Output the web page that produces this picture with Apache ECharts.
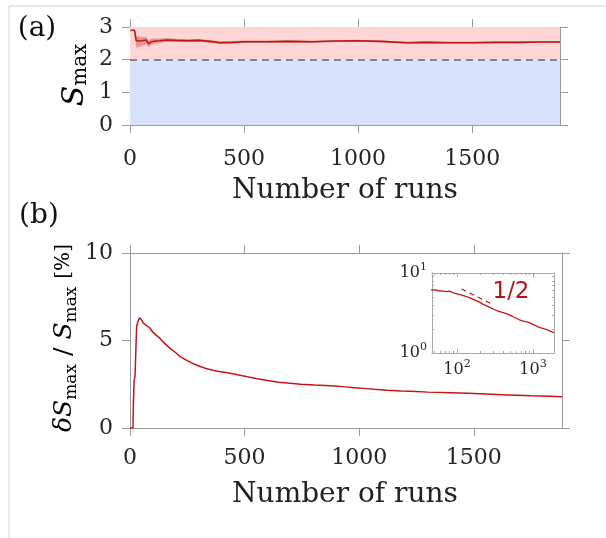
<!DOCTYPE html>
<html><head><meta charset="utf-8">
<script src="https://cdn.jsdelivr.net/npm/echarts@6/dist/echarts.min.js"></script>
<style>html,body{margin:0;padding:0;background:#fff}#c{width:606px;height:538px}</style>
</head><body><div id="c"></div>
<script>
// ---------- data ----------
const xTicks = [0, 500, 1000, 1500];
const yTicksA = [0, 1, 2, 3];
const yTicksB = [0, 5, 10];
const thresholdS = 2;

const runsA = [2, 20, 24, 27, 32, 38, 45, 52, 60, 70, 82, 95, 110, 130, 160, 200, 250, 300, 350, 395,
  450, 500, 600, 700, 800, 900, 1000, 1100, 1214, 1300, 1400, 1500, 1600, 1700, 1800, 1885];
const sMean = [2.9, 2.9, 2.72, 2.58, 2.52, 2.57, 2.53, 2.58, 2.55, 2.6, 2.49, 2.55, 2.57, 2.58, 2.6, 2.59, 2.58, 2.59, 2.56, 2.52,
  2.53, 2.55, 2.55, 2.56, 2.55, 2.57, 2.58, 2.56, 2.52, 2.53, 2.52, 2.52, 2.53, 2.53, 2.54, 2.54];
const sErr = [0, 0, 0.06, 0.18, 0.17, 0.16, 0.15, 0.14, 0.13, 0.11, 0.1, 0.09, 0.08, 0.07, 0.06, 0.05, 0.05, 0.045, 0.04, 0.04,
  0.04, 0.035, 0.035, 0.035, 0.03, 0.03, 0.03, 0.03, 0.03, 0.03, 0.028, 0.028, 0.028, 0.025, 0.025, 0.025];

const runsB = [0, 13, 15, 18, 22, 25, 29, 35, 41, 46, 51, 58, 66, 72, 80, 88, 95, 110, 131, 150, 175, 200, 219, 250, 278,
  310, 336, 365, 395, 425, 453, 480, 512, 555, 600, 650, 687, 745, 804, 850, 892, 940, 980, 1030, 1067, 1120, 1184,
  1250, 1300, 1400, 1476, 1550, 1650, 1750, 1830, 1885];
const relErr = [0, 0, 1.5, 2.7, 3.0, 4.2, 5.8, 6.1, 6.3, 6.2, 6.17, 6.0, 5.94, 5.85, 5.92, 5.7, 5.55, 5.35, 5.12, 4.85, 4.55, 4.3, 4.08, 3.85, 3.66,
  3.5, 3.38, 3.28, 3.22, 3.16, 3.09, 3.02, 2.93, 2.82, 2.72, 2.62, 2.57, 2.5, 2.46, 2.43, 2.4, 2.35, 2.3, 2.25, 2.21, 2.16, 2.11,
  2.08, 2.05, 2.01, 1.98, 1.94, 1.89, 1.84, 1.81, 1.79];

const insetXMajor = [100, 1000];
const insetXMinor = [50, 60, 70, 80, 90, 200, 300, 400, 500, 600, 700, 800, 900];
const insetYMajor = [1, 10];
const insetYMinor = [2, 3, 4, 5, 6, 7, 8, 9];
const slopeRuns = [115, 286];
const slopeVals = [6.3, 4.1];

// ---------- helpers ----------
const AX = '#9a9a9a';
const AXI = '#a8a8a8';
const TXT = '#262626';
const SERIF = 'DejaVu Serif';
const plain = v => String(Math.round(v));

function mainX(grid, pos, show, margin) {
  return {
    type: 'value', gridIndex: grid, position: pos, min: 0, max: 1885, interval: 500,
    axisLine: { show: true, onZero: false, lineStyle: { color: AX, width: 1 } },
    axisTick: { show: true, inside: false, length: 8, customValues: xTicks, lineStyle: { color: AX } },
    axisLabel: { show: show, margin: margin, showMaxLabel: false, formatter: plain, fontFamily: SERIF, fontSize: 22, color: TXT },
    splitLine: { show: false }
  };
}
function mainY(grid, pos, show, max, interval, ticks) {
  return {
    type: 'value', gridIndex: grid, position: pos, min: 0, max: max, interval: interval,
    axisLine: { show: true, onZero: false, lineStyle: { color: AX, width: 1 } },
    axisTick: { show: true, inside: false, length: 8, customValues: ticks, lineStyle: { color: AX } },
    axisLabel: { show: show, margin: 17, formatter: plain, fontFamily: SERIF, fontSize: 22, color: TXT },
    splitLine: { show: false }
  };
}
function isPow10(v) { const l = Math.log10(v); return Math.abs(l - Math.round(l)) < 1e-6; }
function powLabel(v) { return isPow10(v) ? '{m|10}{s|' + Math.round(Math.log10(v)) + '}' : ''; }
const powRich = {
  m: { fontFamily: SERIF, fontSize: 16, lineHeight: 22, color: TXT, verticalAlign: 'middle' },
  s: { fontFamily: SERIF, fontSize: 11, lineHeight: 10, color: TXT, verticalAlign: 'top' }
};
function logX(pos, show, ticks, len) {
  return {
    type: 'log', logBase: 10, gridIndex: 2, position: pos, min: 47, max: 1885,
    axisLine: { show: true, onZero: false, lineStyle: { color: AXI, width: 1 } },
    axisTick: { show: true, inside: true, length: len, customValues: ticks, lineStyle: { color: AXI } },
    axisLabel: { show: show, margin: 6, showMinLabel: false, showMaxLabel: false, formatter: powLabel, rich: powRich },
    splitLine: { show: false }, minorTick: { show: false }
  };
}
function logY(pos, show, ticks, len) {
  return {
    type: 'log', logBase: 10, gridIndex: 2, position: pos, min: 1, max: 10,
    axisLine: { show: true, onZero: false, lineStyle: { color: AXI, width: 1 } },
    axisTick: { show: true, inside: true, length: len, customValues: ticks, lineStyle: { color: AXI } },
    axisLabel: { show: show, margin: 5, formatter: powLabel, rich: powRich },
    splitLine: { show: false }, minorTick: { show: false }
  };
}

const chart = echarts.init(document.getElementById('c'), null, { renderer: 'canvas' });

const subRich = (main, sub, br) => ({
  i: { fontFamily: SERIF, fontStyle: 'italic', fontSize: main, lineHeight: 32, color: '#111', verticalAlign: 'middle' },
  s: { fontFamily: SERIF, fontSize: sub, lineHeight: 19, color: '#111', verticalAlign: 'bottom' },
  n: { fontFamily: SERIF, fontSize: main, lineHeight: 32, color: '#111', verticalAlign: 'middle' },
  p: { fontFamily: SERIF, fontSize: br, lineHeight: 32, color: '#111', verticalAlign: 'middle' }
});

const option = {
  animation: false,
  backgroundColor: '#fff',
  grid: [
    { left: 130, top: 27, width: 430, height: 98 },
    { left: 130, top: 253, width: 432, height: 175 },
    { left: 432, top: 273, width: 122, height: 80 }
  ],
  xAxis: [
    mainX(0, 'bottom', true, 23), mainX(0, 'top', false, 0),
    mainX(1, 'bottom', true, 19), mainX(1, 'top', false, 0),
    logX('bottom', true, insetXMajor, 4), logX('top', false, insetXMajor, 4),
    logX('bottom', false, insetXMinor, 2), logX('top', false, insetXMinor, 2)
  ],
  yAxis: [
    mainY(0, 'left', true, 3, 1, yTicksA), mainY(0, 'right', false, 3, 1, yTicksA),
    mainY(1, 'left', true, 10, 5, yTicksB), mainY(1, 'right', false, 10, 5, yTicksB),
    logY('left', true, insetYMajor, 4), logY('right', false, insetYMajor, 4),
    logY('left', false, insetYMinor, 2), logY('right', false, insetYMinor, 2)
  ],
  series: [
    {
      // background regions (S > 2 red, S < 2 blue) and threshold line
      type: 'line', xAxisIndex: 0, yAxisIndex: 0, symbol: 'none', silent: true, z: 1,
      data: [], lineStyle: { opacity: 0 },
      markArea: {
        silent: true, z: 1,
        data: [
          [{ yAxis: thresholdS, itemStyle: { color: '#ffd6d6', opacity: 1 } }, { yAxis: 3 }],
          [{ yAxis: 0, itemStyle: { color: '#d6e2fb', opacity: 1 } }, { yAxis: thresholdS }]
        ]
      },
      markLine: {
        silent: true, symbol: 'none', label: { show: false },
        lineStyle: { color: '#666', type: [7, 5], width: 1.5 },
        data: [{ yAxis: thresholdS }]
      }
    },
    {
      // uncertainty band: polygon through mean ± err, placed with the axis scales
      type: 'custom', xAxisIndex: 0, yAxisIndex: 0, silent: true, z: 3, clip: true,
      data: [[runsA[0], sMean[0]]],
      renderItem: function (params, api) {
        const upper = runsA.map((r, i) => api.coord([r, sMean[i] + sErr[i]]));
        const lower = runsA.map((r, i) => api.coord([r, sMean[i] - sErr[i]])).reverse();
        return { type: 'polygon', shape: { points: upper.concat(lower) }, style: { fill: 'rgba(200,40,40,0.38)' } };
      }
    },
    {
      type: 'line', xAxisIndex: 0, yAxisIndex: 0, symbol: 'none', z: 4,
      data: runsA.map((r, i) => [r, sMean[i]]),
      lineStyle: { color: '#b81818', width: 1.6 }
    },
    {
      type: 'line', xAxisIndex: 2, yAxisIndex: 2, symbol: 'none', z: 4,
      data: runsB.map((r, i) => [r, relErr[i]]),
      lineStyle: { color: '#c81414', width: 1.5 }
    },
    {
      type: 'line', xAxisIndex: 4, yAxisIndex: 4, symbol: 'none', z: 6,
      data: runsB.map((r, i) => [r, relErr[i]]).filter(d => d[0] >= 41),
      lineStyle: { color: '#c81414', width: 1.3 }
    },
    {
      type: 'line', xAxisIndex: 4, yAxisIndex: 4, symbol: 'none', z: 6,
      data: slopeRuns.map((r, i) => [r, slopeVals[i]]),
      lineStyle: { color: '#b01818', width: 1.2, type: [5, 4] }
    }
  ],
  graphic: [
    { type: 'line', silent: true, shape: { x1: 9, y1: 6, x2: 606, y2: 6 }, style: { stroke: '#d0d0d0', lineWidth: 1 } },
    { type: 'line', silent: true, shape: { x1: 9, y1: 6, x2: 9, y2: 538 }, style: { stroke: '#d0d0d0', lineWidth: 1 } },
    { type: 'text', x: 37, y: 29, style: { text: '(a)', fontFamily: SERIF, fontSize: 28, fill: '#111', align: 'center', verticalAlign: 'middle', textAlign: 'center', textVerticalAlign: 'middle' } },
    { type: 'text', x: 39, y: 216, style: { text: '(b)', fontFamily: SERIF, fontSize: 28, fill: '#111', align: 'center', verticalAlign: 'middle', textAlign: 'center', textVerticalAlign: 'middle' } },
    { type: 'text', x: 345, y: 191, style: { text: 'Number of runs', fontFamily: SERIF, fontSize: 28, fill: '#222', align: 'center', verticalAlign: 'middle', textAlign: 'center', textVerticalAlign: 'middle' } },
    { type: 'text', x: 345, y: 495, style: { text: 'Number of runs', fontFamily: SERIF, fontSize: 28, fill: '#222', align: 'center', verticalAlign: 'middle', textAlign: 'center', textVerticalAlign: 'middle' } },
    { type: 'text', x: 75, y: 75, rotation: Math.PI / 2,
      style: { text: '{i|S}{s|max}', rich: subRich(30, 20, 22), align: 'center', verticalAlign: 'middle', textAlign: 'center', textVerticalAlign: 'middle' } },
    { type: 'text', x: 64, y: 338, rotation: Math.PI / 2,
      style: { text: '{i|δS}{s|max}{n| / }{i|S}{s|max}{n| }{p|[%]}', rich: subRich(25, 17, 20), align: 'center', verticalAlign: 'middle', textAlign: 'center', textVerticalAlign: 'middle' } },
    { type: 'text', x: 511, y: 292, z: 20, style: { text: '1/2', fontFamily: 'DejaVu Sans', fontSize: 23, fill: '#b01818', align: 'center', verticalAlign: 'middle', textAlign: 'center', textVerticalAlign: 'middle' } }
  ]
};
chart.setOption(option);
</script>
</body></html>
